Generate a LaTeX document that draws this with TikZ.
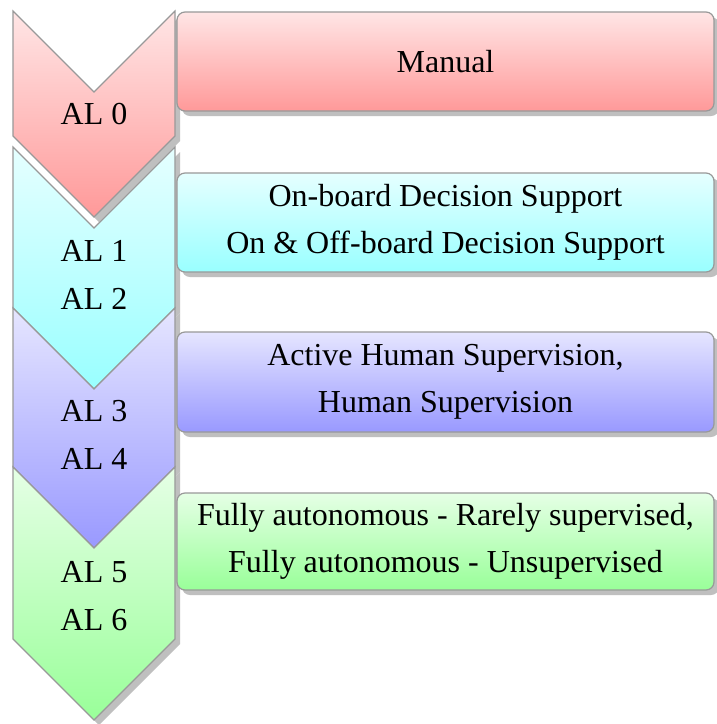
\documentclass[tikz,border=0pt]{standalone}
\usepackage{fontspec}
\setmainfont{Liberation Serif}
\usetikzlibrary{shadows}
\definecolor{edgegray}{gray}{0.6}
\tikzset{
  lvl/.style={draw=edgegray, line width=1.2pt, line join=miter,
    top color=#1!10, bottom color=#1!40,
    drop shadow={shadow xshift=5pt, shadow yshift=-5pt, fill=black!25, opacity=1}},
  descbox/.style={lvl=#1, rounded corners=8pt, minimum width=537pt,
    inner sep=0pt, align=center, font=\fontsize{32}{47}\selectfont},
  lvltext/.style={align=center, inner sep=0pt, font=\fontsize{32}{48}\selectfont}
}
\begin{document}
\begin{tikzpicture}[x=1pt, y=-1pt]
  \fill[white] (0,0) rectangle (716,724);
  \useasboundingbox (0,0) rectangle (716,724);

  % level 0
  \path[lvl=red] (13,11) -- (94,92) -- (175,11) -- (175,136) -- (94,217) -- (13,136) -- cycle;
  \node[descbox=red, minimum height=99pt] (d0) at (445.5,61.5) {Manual};

  % levels 1 and 2
  \path[lvl=cyan] (13,147) -- (94,228) -- (175,147) -- (175,308) -- (94,389) -- (13,308) -- cycle;
  \node[descbox=cyan, minimum height=99pt] (d1) at (445.5,222.5)
    {On-board Decision Support\\On \& Off-board Decision Support};

  % levels 3 and 4
  \path[lvl=blue] (13,308) -- (94,389) -- (175,308) -- (175,467) -- (94,548) -- (13,467) -- cycle;
  \node[descbox=blue, minimum height=100pt] (d2) at (445.5,382)
    {Active Human Supervision,\\Human Supervision};

  % levels 5 and 6
  \path[lvl=green] (13,467) -- (94,548) -- (175,467) -- (175,639) -- (94,720) -- (13,639) -- cycle;
  \node[descbox=green, minimum height=97pt] (d3) at (445.5,541.5)
    {Fully autonomous - Rarely supervised,\\Fully autonomous - Unsupervised};

  % level labels
  \node[lvltext] (l0) at (94,114) {AL 0};
  \node[lvltext] (l1) at (94,275) {AL 1\\AL 2};
  \node[lvltext] (l2) at (94,435) {AL 3\\AL 4};
  \node[lvltext] (l3) at (94,596) {AL 5\\AL 6};
\end{tikzpicture}
\end{document}
